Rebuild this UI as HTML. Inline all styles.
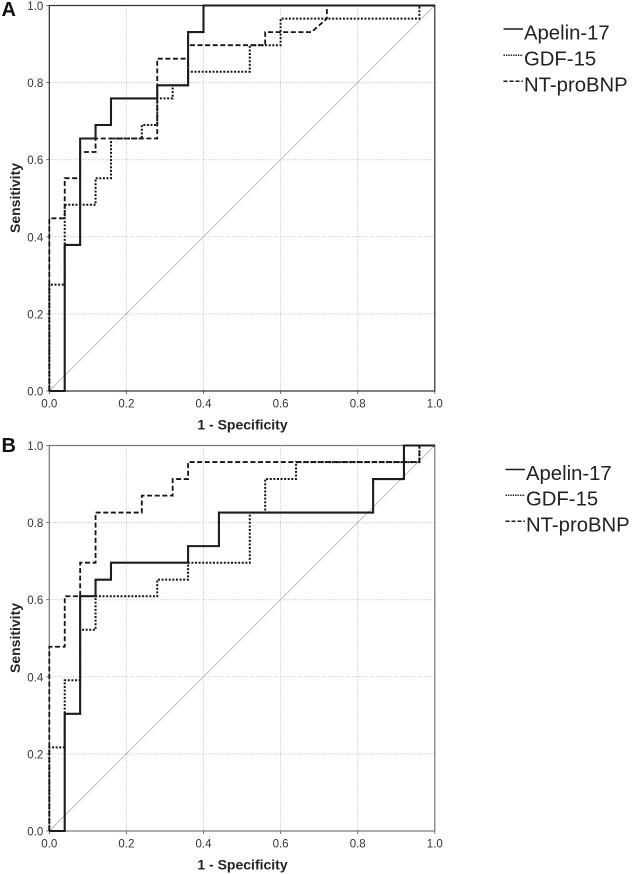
<!DOCTYPE html>
<html>
<head>
<meta charset="utf-8">
<title>ROC curves</title>
<style>
html,body{margin:0;padding:0;background:#fff;}
svg{display:block;}
text{font-family:"Liberation Sans",Arial,sans-serif;}
</style>
</head>
<body>
<svg id="chart" xmlns="http://www.w3.org/2000/svg" width="633" height="874" viewBox="0 0 633 874"></svg>
<script>
const tickValues = [0, 0.2, 0.4, 0.6, 0.8, 1];
const tickLabels = ["0.0", "0.2", "0.4", "0.6", "0.8", "1.0"];

const panelAApelinX = [0, 0.04, 0.04, 0.08, 0.08, 0.12, 0.12, 0.16, 0.16, 0.28, 0.28, 0.36, 0.36, 0.40, 0.40, 1];
const panelAApelinY = [0, 0, 0.379, 0.379, 0.655, 0.655, 0.69, 0.69, 0.759, 0.759, 0.793, 0.793, 0.931, 0.931, 1, 1];
const panelAGdfX = [0, 0, 0.04, 0.04, 0.12, 0.12, 0.16, 0.16, 0.24, 0.24, 0.28, 0.28, 0.32, 0.32, 0.36, 0.36, 0.52, 0.52, 0.60, 0.60, 0.96, 0.96, 1];
const panelAGdfY = [0, 0.276, 0.276, 0.483, 0.483, 0.552, 0.552, 0.655, 0.655, 0.69, 0.69, 0.759, 0.759, 0.793, 0.793, 0.828, 0.828, 0.897, 0.897, 0.966, 0.966, 1, 1];
const panelANtX = [0, 0, 0.04, 0.04, 0.08, 0.08, 0.12, 0.12, 0.28, 0.28, 0.36, 0.36, 0.56, 0.56, 0.68, 0.72, 0.72, 1];
const panelANtY = [0, 0.448, 0.448, 0.552, 0.552, 0.62, 0.62, 0.655, 0.655, 0.862, 0.862, 0.897, 0.897, 0.931, 0.931, 0.966, 1, 1];

const panelBApelinX = [0, 0.04, 0.04, 0.08, 0.08, 0.12, 0.12, 0.16, 0.16, 0.36, 0.36, 0.44, 0.44, 0.84, 0.84, 0.92, 0.92, 1];
const panelBApelinY = [0, 0, 0.304, 0.304, 0.609, 0.609, 0.652, 0.652, 0.696, 0.696, 0.739, 0.739, 0.826, 0.826, 0.913, 0.913, 1, 1];
const panelBGdfX = [0, 0, 0.04, 0.04, 0.08, 0.08, 0.12, 0.12, 0.28, 0.28, 0.36, 0.36, 0.52, 0.52, 0.56, 0.56, 0.64, 0.64, 0.96, 0.96, 1];
const panelBGdfY = [0, 0.217, 0.217, 0.391, 0.391, 0.522, 0.522, 0.609, 0.609, 0.652, 0.652, 0.696, 0.696, 0.826, 0.826, 0.913, 0.913, 0.957, 0.957, 1, 1];
const panelBNtX = [0, 0, 0.04, 0.04, 0.08, 0.08, 0.12, 0.12, 0.24, 0.24, 0.32, 0.32, 0.36, 0.36, 0.96, 0.96, 1];
const panelBNtY = [0, 0.478, 0.478, 0.609, 0.609, 0.696, 0.696, 0.826, 0.826, 0.87, 0.87, 0.913, 0.913, 0.957, 0.957, 1, 1];

const NS = 'http://www.w3.org/2000/svg';
const svg = document.getElementById('chart');

function make(tag, attrs, parent, text) {
  const el = document.createElementNS(NS, tag);
  for (const k in attrs) el.setAttribute(k, attrs[k]);
  if (text !== undefined) el.textContent = text;
  parent.appendChild(el);
  return el;
}

function drawPanel(cfg) {
  const left = 49.3, size = 385.5, bottom = cfg.bottom, top = bottom - size;
  const sx = v => left + v * size;
  const sy = v => bottom - v * size;

  const g = make('g', {}, svg);
  
  

  tickValues.forEach((t, i) => {
    if (t > 0 && t < 1) {
      const gx = make('line', {x1: sx(t), x2: sx(t), y1: top, y2: bottom, stroke: '#b4b4b4', 'stroke-width': 1, 'stroke-dasharray': '1 2'}, g);
      
      
      const gy = make('line', {x1: left, x2: left + size, y1: sy(t), y2: sy(t), stroke: '#b4b4b4', 'stroke-width': 1, 'stroke-dasharray': '1 2'}, g);
      
      
    }
    const tx = make('line', {x1: sx(t), x2: sx(t), y1: bottom, y2: bottom + 3, stroke: '#555', 'stroke-width': 0.8}, g);
    
    
    const ty = make('line', {x1: left - 3, x2: left, y1: sy(t), y2: sy(t), stroke: '#555', 'stroke-width': 0.8}, g);
    
    
    const xl = make('text', {x: sx(t), y: bottom + 16.5, 'text-anchor': 'middle', 'font-size': 11.5, fill: '#333'}, g, tickLabels[i]);
    
    
    const yl = make('text', {x: left - 6, y: sy(t) + 4.5, 'text-anchor': 'end', 'font-size': 11.5, fill: '#333'}, g, tickLabels[i]);
    
    
  });

  const diag = make('line', {x1: sx(0), y1: sy(0), x2: sx(1), y2: sy(1), stroke: '#b8b8b8', 'stroke-width': 0.9}, g);
  
  

  const frame = make('rect', {x: left, y: top, width: size, height: size, fill: 'none', stroke: cfg.frame, 'stroke-width': 1.2}, g);
  
  

  const toPoints = (xs, ys) => xs.map((v, i) => sx(v).toFixed(2) + ',' + sy(ys[i]).toFixed(2)).join(' ');

  const nt = make('polyline', {points: toPoints(cfg.ntX, cfg.ntY), fill: 'none', stroke: '#141414', 'stroke-width': 1.8, 'stroke-dasharray': '5 2.6'}, g);
  
  
  const gdf = make('polyline', {points: toPoints(cfg.gdfX, cfg.gdfY), fill: 'none', stroke: '#141414', 'stroke-width': 2, 'stroke-dasharray': '2 1.6'}, g);
  
  
  const ap = make('polyline', {points: toPoints(cfg.apX, cfg.apY), fill: 'none', stroke: '#1c1c1c', 'stroke-width': 2.1}, g);
  
  

  const xTitle = make('text', {x: 242.5, y: bottom + 38.5, 'text-anchor': 'middle', 'font-size': 14, 'font-weight': 'bold', fill: '#222'}, g, '1 - Specificity');
  
  
  const yTitle = make('text', {transform: 'translate(20,' + (bottom - 193) + ') rotate(-90)', 'text-anchor': 'middle', 'font-size': 14, 'font-weight': 'bold', fill: '#222'}, g, 'Sensitivity');
  
  
  const letter = make('text', {x: 1.5, y: cfg.letterY, 'font-size': 20, 'font-weight': 'bold', fill: '#111'}, g, cfg.letter);
  
  

  const lg = make('g', {}, svg);
  
  
  const entries = [
    ['Apelin-17', cfg.legend[0], '', 1.6],
    ['GDF-15', cfg.legend[1], '1.4 1', 1.5],
    ['NT-proBNP', cfg.legend[2], '4 2', 1.5]
  ];
  entries.forEach(e => {
    const key = make('line', {x1: cfg.legendX, x2: cfg.legendX + 19.5, y1: e[1] - 10.5, y2: e[1] - 10.5, stroke: '#1c1c1c', 'stroke-width': e[3], 'stroke-dasharray': e[2] || 'none'}, lg);
    
    
    const label = make('text', {x: cfg.legendX + 20.5, y: e[1], 'font-size': 20.3, fill: '#222'}, lg, e[0]);
    
    
  });
}

drawPanel({key: 'panel-a', letter: 'A', letterY: 16, bottom: 391, frame: '#2e2e2e',
  apX: panelAApelinX, apY: panelAApelinY, gdfX: panelAGdfX, gdfY: panelAGdfY, ntX: panelANtX, ntY: panelANtY,
  legendX: 503.5, legend: [39.5, 65.7, 91.7]});
drawPanel({key: 'panel-b', letter: 'B', letterY: 452, bottom: 831, frame: '#777',
  apX: panelBApelinX, apY: panelBApelinY, gdfX: panelBGdfX, gdfY: panelBGdfY, ntX: panelBNtX, ntY: panelBNtY,
  legendX: 505.5, legend: [480, 505.7, 531.7]});
</script>
</body>
</html>
